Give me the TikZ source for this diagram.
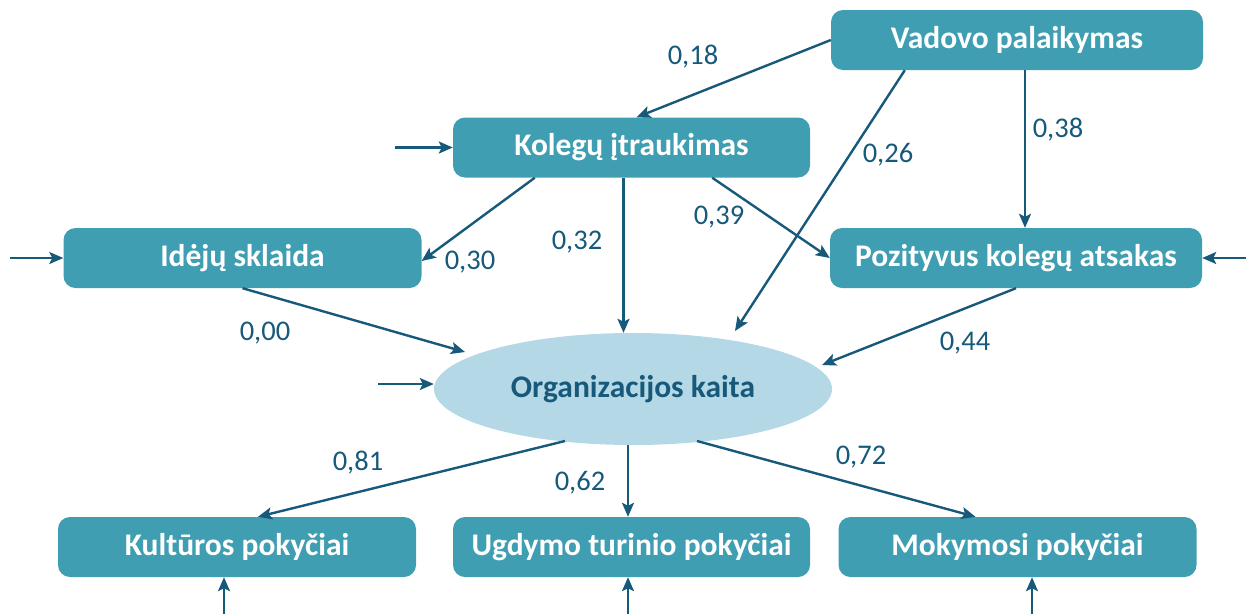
\documentclass[tikz,border=0pt]{standalone}
\usepackage{fontspec}
\setmainfont{Carlito}
\usetikzlibrary{shapes.geometric,arrows.meta}
\definecolor{boxteal}{HTML}{409EB2}
\definecolor{ovalblue}{HTML}{B5D8E6}
\definecolor{linkblue}{HTML}{17597A}

\begin{document}
\begin{tikzpicture}[x=1pt,y=-1pt,
    factor/.style={fill=boxteal, rounded corners=12pt, minimum width=358pt,
      minimum height=60pt, inner sep=0pt, text=white,
      font=\fontsize{31.5}{36}\selectfont\bfseries},
    outcome/.style={ellipse, fill=ovalblue, minimum width=398pt,
      minimum height=112pt, inner sep=0pt, text=linkblue,
      font=\fontsize{31.5}{36}\selectfont\bfseries},
    coef/.style={text=linkblue, inner sep=0pt, font=\fontsize{28.5}{32}\selectfont},
    link/.style={draw=linkblue, line width=2.4pt, -{Stealth[length=14pt,width=12pt,inset=3pt]}}]
    \useasboundingbox (0,0) rectangle (1246,614);
    % boxes
    \node [factor, minimum width=372pt] (vad) at (1017,40) {Vadovo palaikymas};
    \node [factor, minimum width=357pt] (kol) at (631.5,147.5) {Kolegų įtraukimas};
    \node [factor] (ide) at (242.5,258) {Idėjų sklaida};
    \node [factor, minimum width=372pt] (poz) at (1016,258) {Pozityvus kolegų atsakas};
    \node [outcome] (org) at (633,389) {Organizacijos kaita};
    \node [factor] (kul) at (237,547) {Kultūros pokyčiai};
    \node [factor, minimum width=357pt] (ugd) at (631.5,547) {Ugdymo turinio pokyčiai};
    \node [factor] (mok) at (1017.5,547) {Mokymosi pokyčiai};
    % error terms
    \coordinate (ekol) at (395,147.5);
    \coordinate (eide) at (10,258);
    \coordinate (epoz) at (1246,258);
    \coordinate (eorg) at (378,384);
    \coordinate (ekul) at (224,614);
    \coordinate (eugd) at (628,614);
    \coordinate (emok) at (1032,614);
    \draw [link] (ekol) -- (kol);
    \draw [link] (eide) -- (ide);
    \draw [link] (epoz) -- (poz);
    \draw [link] (eorg) -- (eorg -| org.west);
    \draw [link] (ekul) -- (ekul |- kul.south);
    \draw [link] (eugd) -- (eugd |- ugd.south);
    \draw [link] (emok) -- (emok |- mok.south);
    % paths
    \draw [link] (vad.west) -- ([xshift=5pt]kol.north);
    \draw [link] ([xshift=74pt]vad.south west) -- (735,331);
    \draw [link] ([xshift=8pt]vad.south) -- ([xshift=8pt]vad.south |- poz.north);
    \draw [link] ([xshift=82pt]kol.south west) -- ([yshift=-3pt]ide.east);
    \draw [link] ([xshift=-8pt]kol.south) -- ([xshift=-8pt]kol.south |- org.north);
    \draw [link] ([xshift=-98pt]kol.south east) -- (poz.west);
    \draw [link] (ide.south) -- (465,352);
    \draw [link] (poz.south) -- (822,365);
    \draw [link] (565,441) -- ([xshift=21pt]kul.north);
    \draw [link] (org.south -| eugd) -- (eugd |- ugd.north);
    \draw [link] (697,441) -- ([xshift=-42pt]mok.north);
    % coefficients
    \node [coef] (c18) at (693,57) {0,18};
    \node [coef] (c26) at (888,155) {0,26};
    \node [coef] (c38) at (1058,130) {0,38};
    \node [coef] (c30) at (470,262) {0,30};
    \node [coef] (c32) at (577,242) {0,32};
    \node [coef] (c39) at (719,217) {0,39};
    \node [coef] (c00) at (265,333) {0,00};
    \node [coef] (c44) at (965,343) {0,44};
    \node [coef] (c81) at (358,463) {0,81};
    \node [coef] (c62) at (580,483) {0,62};
    \node [coef] (c72) at (861,457) {0,72};
\end{tikzpicture}
\end{document}
